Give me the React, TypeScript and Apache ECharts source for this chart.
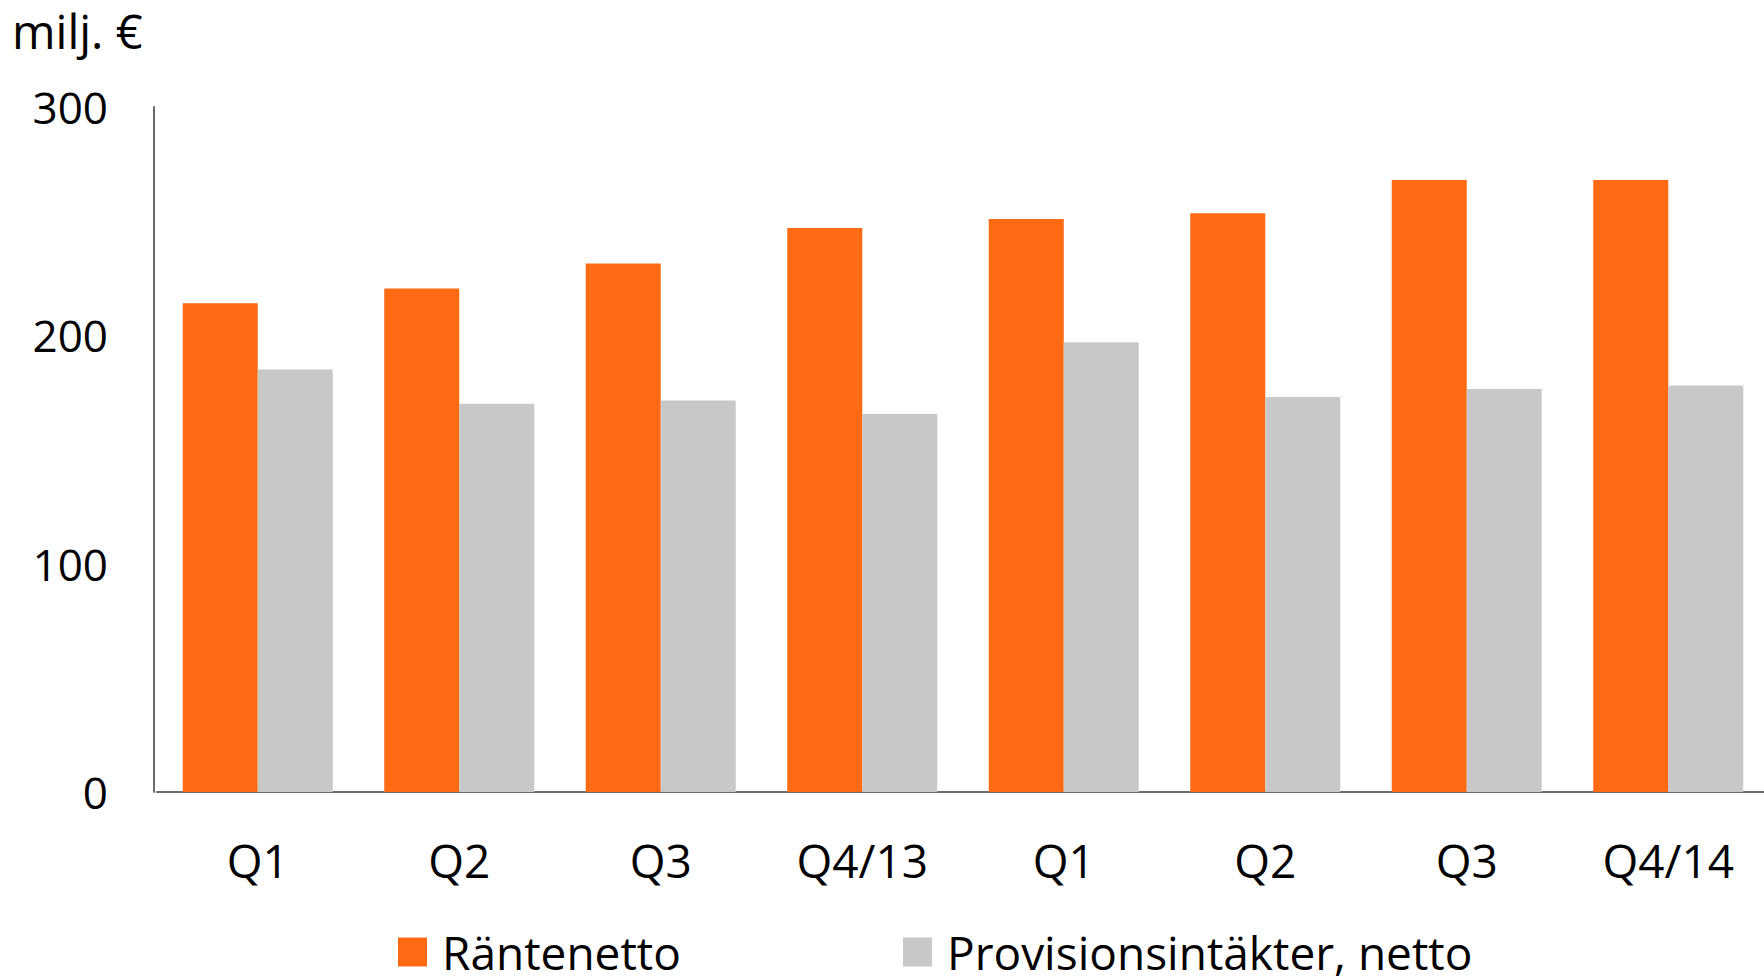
import React, { useEffect, useRef } from "react";
import * as echarts from "echarts";

const categories = ["Q1", "Q2", "Q3", "Q4/13", "Q1", "Q2", "Q3", "Q4/14"];
const rantenetto = [214, 220.5, 231.5, 247, 251, 253.5, 268, 268];
const provisioner = [185, 170, 171.5, 165.5, 197, 173, 176.5, 178];
const seriesNames = ["Räntenetto", "Provisionsintäkter, netto"];
const unitLabel = "milj. €";

const FONT = "Open Sans";
const FS = 44;

export default function App() {
  const ref = useRef<HTMLDivElement>(null);
  useEffect(() => {
    if (!ref.current) return;
    const chart = echarts.init(ref.current, undefined, { renderer: "svg" });
    const legendCommon = {
      top: 929,
      padding: 0,
      itemWidth: 29,
      itemHeight: 29,
      icon: "rect",
      textStyle: { fontFamily: FONT, fontSize: 46, lineHeight: 44, color: "#000", padding: [0, 0, 0, 10] },
    };
    chart.setOption({
      animation: false,
      backgroundColor: "#ffffff",
      textStyle: { fontFamily: FONT, color: "#000" },
      title: {
        text: unitLabel,
        left: 12,
        top: 6,
        padding: 0,
        textStyle: { fontFamily: FONT, fontSize: 47, lineHeight: 50, fontWeight: "normal", color: "#000" },
      },
      legend: [
        { ...legendCommon, data: [seriesNames[0]], left: 398 },
        { ...legendCommon, data: [seriesNames[1]], left: 903 },
      ],
      grid: { left: 157, top: 107, bottom: 188, width: 1612, outerBoundsMode: "none", containLabel: false },
      xAxis: {
        type: "category",
        data: categories,
        axisLine: { lineStyle: { color: "#6b6b6b", width: 2 } },
        axisTick: { show: false },
        axisLabel: { fontFamily: FONT, fontSize: 46, color: "#000", margin: 45 },
      },
      yAxis: {
        type: "value",
        min: 0,
        max: 300,
        interval: 100,
        offset: 3,
        axisLine: { show: true, lineStyle: { color: "#6b6b6b", width: 2 } },
        axisTick: { show: false },
        splitLine: { show: false },
        axisLabel: { fontFamily: FONT, fontSize: FS, color: "#000", margin: 46 },
      },
      series: [
        {
          name: seriesNames[0],
          type: "bar",
          data: rantenetto,
          barWidth: 75,
          barGap: "0%",
          itemStyle: { color: "#FF6A13" },
        },
        {
          name: seriesNames[1],
          type: "bar",
          data: provisioner,
          barWidth: 75,
          barGap: "0%",
          itemStyle: { color: "#C8C8C8" },
        },
      ],
    });
    return () => chart.dispose();
  }, []);
  return <div ref={ref} style={{ width: 1764, height: 980, position: "absolute", left: 0, top: 0 }} />;
}
